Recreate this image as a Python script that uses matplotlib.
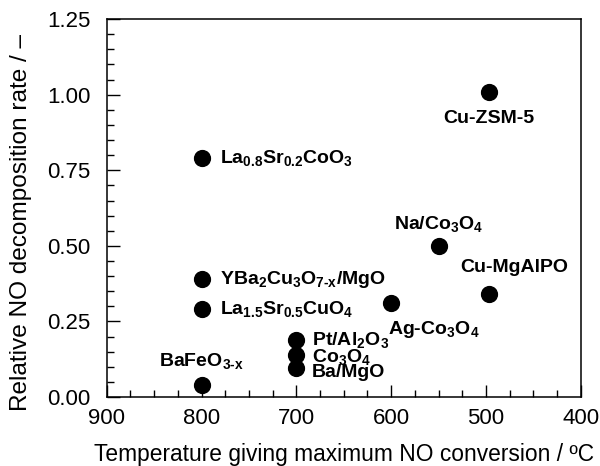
import matplotlib
matplotlib.use("Agg")
import matplotlib.pyplot as plt
from matplotlib.ticker import MultipleLocator

plt.rcParams['font.family'] = ['Liberation Sans', 'DejaVu Sans']
plt.rcParams['mathtext.fontset'] = 'custom'
plt.rcParams['mathtext.rm'] = 'Liberation Sans:bold'
plt.rcParams['mathtext.it'] = 'Liberation Sans:bold'
plt.rcParams['mathtext.bf'] = 'Liberation Sans:bold'

# catalysts: temperature of max NO conversion (C) and relative decomposition rate
catalysts = ['Cu-ZSM-5', 'La$_{0.8}$Sr$_{0.2}$CoO$_3$', 'Na/Co$_3$O$_4$', 'Cu-MgAlPO',
             'Ag-Co$_3$O$_4$', 'YBa$_2$Cu$_3$O$_{7\\text{-}x}$/MgO', 'La$_{1.5}$Sr$_{0.5}$CuO$_4$',
             'BaFeO$_{3\\text{-}x}$', 'Pt/Al$_2$O$_3$', 'Co$_3$O$_4$', 'Ba/MgO']
temperature = [497, 800, 550, 497, 600, 800, 800, 800, 700, 700, 700]
rate = [1.01, 0.79, 0.50, 0.34, 0.31, 0.39, 0.29, 0.04, 0.19, 0.14, 0.095]

# label offsets in points and alignment
offsets = [(0, -19, 'center'), (13, 0, 'left'), (0, 16, 'center'), (18, 19, 'center'),
           (-2, -19, 'left'), (13, 0, 'left'), (13, 0, 'left'),
           (0, 17, 'center'), (11, 0, 'left'), (11, -2, 'left'), (11, -3, 'left')]

fig = plt.figure(figsize=(6, 4.66), dpi=100)
ax = fig.add_axes([0.178, 0.148, 0.79, 0.811])

ax.scatter(temperature, rate, s=130, c='black', zorder=3)

for name, x, y, (dx, dy, ha) in zip(catalysts, temperature, rate, offsets):
    ax.annotate(name, (x, y), xytext=(dx, dy), textcoords='offset points',
                ha=ha, va='center', fontsize=14, fontweight='bold')

ax.set_xlim(900, 400)
ax.set_ylim(0, 1.25)
ax.xaxis.set_major_locator(MultipleLocator(100))
ax.xaxis.set_minor_locator(MultipleLocator(25))
ax.yaxis.set_major_locator(MultipleLocator(0.25))
ax.yaxis.set_minor_locator(MultipleLocator(0.05))
ax.yaxis.set_major_formatter(plt.FormatStrFormatter('%.2f'))

ax.tick_params(which='both', direction='in', top=False, right=False, labelsize=16, width=1)
ax.tick_params(which='major', length=9)
ax.tick_params(which='minor', length=5)
ax.tick_params(axis='x', pad=8)
ax.tick_params(axis='y', pad=12)
for sp in ax.spines.values():
    sp.set_linewidth(1.1)

ax.set_xlabel('Temperature giving maximum NO conversion / ºC', fontsize=16.4, labelpad=10)
ax.set_ylabel('Relative NO decomposition rate / –', fontsize=17.6)
ax.yaxis.set_label_coords(-0.157, 0.463)

fig.savefig('out.png', dpi=100)
